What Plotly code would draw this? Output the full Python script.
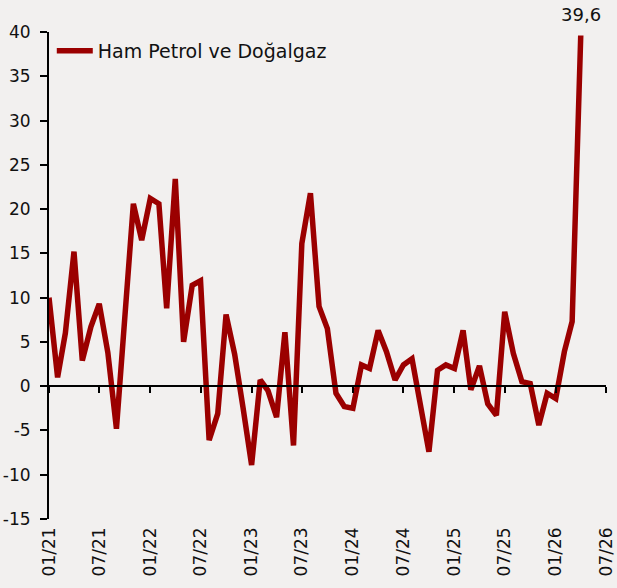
import plotly.graph_objects as go
import pandas as pd

series_name = "Ham Petrol ve Doğalgaz"
months = pd.date_range("2021-01-01", periods=64, freq="MS")
values = [10.0, 1.0, 6.0, 15.2, 2.9, 6.7, 9.3, 3.8, -4.8, 8.6,
          20.6, 16.5, 21.2, 20.6, 8.8, 23.4, 5.0, 11.4, 11.9, -6.1,
          -3.1, 8.1, 3.6, -2.4, -8.9, 0.7, -0.5, -3.5, 6.1, -6.7,
          16.1, 21.8, 9.0, 6.5, -0.8, -2.3, -2.5, 2.4, 2.0, 6.3,
          3.9, 0.7, 2.4, 3.1, -2.0, -7.4, 1.8, 2.4, 2.0, 6.3,
          -0.4, 2.3, -2.0, -3.3, 8.4, 3.7, 0.5, 0.3, -4.4, -0.8,
          -1.4, 3.9, 7.3, 39.6]
y_ticks = [-15, -10, -5, 0, 5, 10, 15, 20, 25, 30, 35, 40]
y_range = [-15, 40]
x_range = ["2021-01-01", "2026-07-01"]

RED = "#9B0000"
BG = "#F2F0EF"
FONT = "DejaVu Sans"

fig = go.Figure()
fig.add_trace(go.Scatter(x=months, y=values, mode="lines", name=series_name,
                         line=dict(color=RED, width=5.5)))
# helper trace for the zero-level axis with tick marks
fig.add_trace(go.Scatter(x=[], y=[], xaxis="x2", showlegend=False, hoverinfo="skip"))

zero_pos = (0 - y_range[0]) / (y_range[1] - y_range[0])

last_val = values[-1]
fig.add_annotation(x=months[-1], y=last_val, text=f"{last_val:.1f}".replace(".", ","),
                   showarrow=False, yanchor="bottom", yshift=9,
                   font=dict(family=FONT, size=18, color="#111111"))

fig.update_layout(
    width=617, height=588,
    margin=dict(l=49, r=11, t=32, b=69),
    paper_bgcolor=BG, plot_bgcolor=BG,
    font=dict(family=FONT, size=17, color="#111111"),
    showlegend=True,
    legend=dict(x=0.005, y=1.0, xanchor="left", yanchor="top",
                bgcolor="rgba(0,0,0,0)", font=dict(size=19, family=FONT),
                itemwidth=36),
    xaxis=dict(type="date", range=x_range, tick0="2021-01-01", dtick="M6",
               tickformat="%m/%y", tickangle=-90, showline=False, showgrid=False,
               zeroline=False, ticks="", ticklabelstandoff=4, automargin=False),
    xaxis2=dict(type="date", range=x_range, tick0="2021-01-01", dtick="M6",
                overlaying="x", anchor="free", position=zero_pos, side="bottom",
                showline=True, linecolor="#000000", linewidth=2,
                ticks="outside", ticklen=6, tickwidth=2, tickcolor="#000000",
                showticklabels=False, showgrid=False, zeroline=False, automargin=False),
    yaxis=dict(range=y_range, tickvals=y_ticks, ticktext=[str(v) for v in y_ticks],
               showline=True, linecolor="#000000",
               linewidth=2, ticks="outside", ticklen=7, tickwidth=2,
               tickcolor="#000000", showgrid=False, zeroline=False,
               ticklabelstandoff=6, automargin=False),
)

fig.write_html("out.html",
               config={"displayModeBar": False},
               post_script="document.body.style.margin='0px';"
                           "document.body.style.background='" + BG + "';")
